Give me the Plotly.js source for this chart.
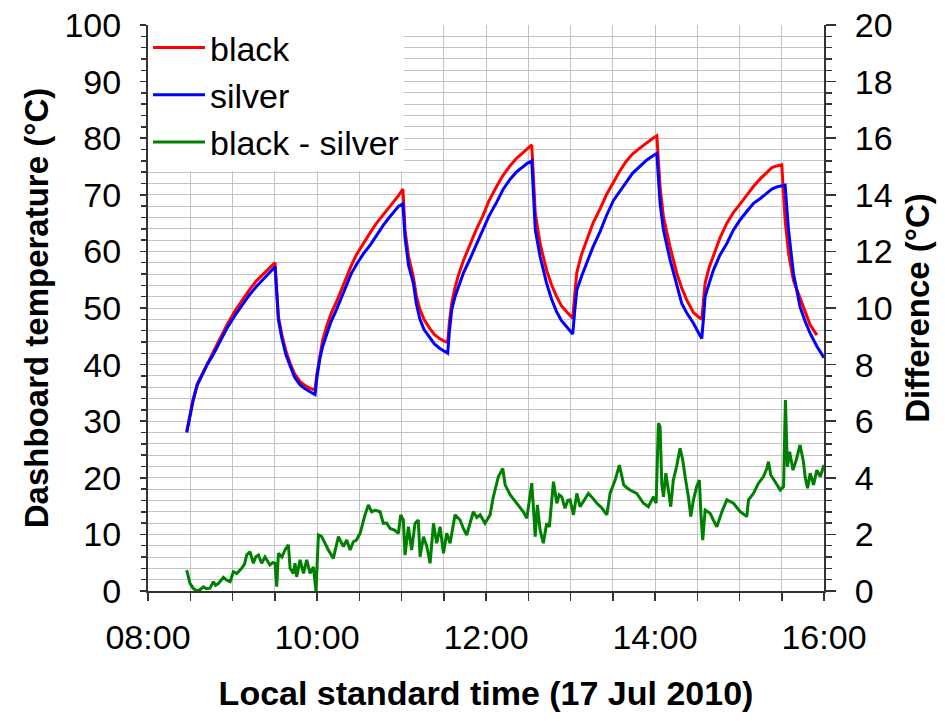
<!DOCTYPE html>
<html>
<head>
<meta charset="utf-8">
<script src="https://cdn.plot.ly/plotly-3.0.1.min.js"></script>
<style>html,body{margin:0;padding:0;background:#fff;}#chart{width:945px;height:721px;}</style>
</head>
<body>
<div id="chart"></div>
<script>
// Times are minutes after 08:00 on 17 Jul 2010
const tempMinutes = [27.5,30,32,35,39,42,46,51,56,62,68,72,77,84,88,90.2,92.6,95,98,101,104,108,111,115,118.6,120,122,124,127,130,134,137,141,144,148,153,158,162,167,171,175,178,181,182.5,185,188.4,190.5,193,196,200,203.5,207,210,212.8,214,215.6,218,220.4,224,228.7,233,238,242,247.6,252,257,261.5,266.5,269.5,272.5,275,278.4,283,286.5,290,293.5,297.4,299.5,301.6,303,304.5,308,311.6,316,321,325.5,330.5,335,339.5,344,349,354,358,361.3,363.6,366,370.7,375.5,379,382.6,387.3,390.5,393.2,394.5,395.6,398.5,401.5,406,411,415.5,420.5,425,430,435,439.4,443,446.5,450,452.4,454.8,458.3,463,466.5,470.2,475,480];
const blackTemp = [28.2,31.6,33.8,36.6,38.6,40.3,42.0,44.6,47.0,49.6,51.8,53.2,54.8,56.6,57.5,58.0,48.5,45.3,42.3,40.2,38.4,37.0,36.4,35.8,35.5,38.5,41.8,44.3,46.9,49.0,51.2,53.0,55.6,57.3,59.4,61.5,63.4,64.9,66.4,67.6,68.8,69.9,71.0,63.8,59.1,55.5,52.2,49.8,48.0,46.4,45.3,44.6,44.2,43.9,47.5,50.8,53.6,55.8,58.4,61.2,63.8,66.4,68.9,71.5,73.4,75.1,76.4,77.5,78.2,78.8,66.7,61.4,56.7,54.1,52.1,50.4,49.3,48.7,48.2,52.4,56.3,59.6,62.2,65.0,67.5,70.0,72.2,74.2,75.9,77.2,78.2,79.2,79.9,80.4,71.4,66.1,60.8,56.1,53.5,51.4,49.2,48.5,48.0,51.5,54.4,57.2,59.3,62.3,65.0,66.8,68.4,69.9,71.5,72.9,73.9,74.8,75.1,75.3,65.5,59.7,54.9,51.9,49.6,47.0,45.2];
const silverTemp = [28.0,31.4,33.6,36.4,38.4,40.0,41.6,44.0,46.4,48.8,51.0,52.3,53.8,55.7,56.8,57.3,47.9,44.7,41.7,39.6,37.8,36.4,35.8,35.2,34.7,37.8,41.0,43.2,45.6,47.6,49.8,51.7,54.3,55.9,57.7,59.6,61.2,62.8,64.6,65.9,67.2,68.0,68.4,62.5,57.5,54.4,50.8,48.1,46.2,44.7,43.6,42.9,42.5,42.0,45.8,49.6,52.0,53.6,56.2,58.7,61.2,63.8,66.2,68.7,70.9,72.7,74.0,75.0,75.6,76.0,63.8,59.1,54.4,51.6,49.4,47.8,46.7,46.0,45.4,49.5,53.2,55.7,57.9,60.8,63.5,66.3,69.0,70.5,72.2,73.8,75.0,76.1,76.8,77.3,68.5,63.8,58.5,53.8,50.8,49.1,47.3,45.8,44.6,48.4,52.0,54.4,56.7,59.3,61.4,63.7,65.6,67.0,68.5,69.4,70.3,71.0,71.4,71.6,71.7,63.8,56.1,50.2,47.7,45.5,43.2,41.2];

const diffMinutes = [27.5,29.8,32,34.6,37,39.3,41.5,44,46.4,48,50,53.5,56,58.3,60.6,63,66.5,68.5,70.1,72.4,74.8,76.5,78.4,80.7,83.1,85,86.6,88.5,90.2,91.4,92.6,95,97.3,99.7,100.9,103.2,104.4,105.6,108,110.4,112.7,115.1,117.4,119.3,121,123.3,125.5,128.1,131.6,135.2,138.7,141.1,143.5,145.8,148,150.6,154.1,156.5,158.8,161.5,164.8,167.1,169.5,171.9,175,177.8,179.4,181.3,182.5,184.9,187.2,189.6,191.9,193.2,195.6,198,200.3,202.7,205,207.4,209.8,212.1,214.5,218,221.6,224,226.3,228.5,231,233.5,235.8,239.3,242.9,245.2,248.8,251.9,253.6,257.1,261.8,264,266.5,269,272.5,273.7,274.9,276.5,278.4,280.7,283.1,285,287.9,290.3,292,293.8,296.1,298,299.7,302.1,304.5,306.8,309.5,312.7,315.5,318.7,322,325.8,328.1,331.7,334.7,337.8,340,342.3,347,349.5,351.8,355.3,358.9,360.8,362.4,363.6,364.8,366,367.7,369.5,371.2,373,375.3,377.8,379.7,381.4,383.7,385.4,387.3,389.6,391.5,392.7,393.9,395.6,399.1,401.5,403.9,407.5,411,415.7,420.5,425.2,426.4,429.9,433.5,437,439.4,440.6,442.2,445.3,448.9,451.3,452.6,454,455.6,458,460.3,463,465.4,466.6,468.3,470.2,472.6,474.9,477.3,480];
const diffValues = [0.74,0.27,0.1,0.0,0.05,0.15,0.08,0.1,0.33,0.2,0.27,0.48,0.38,0.33,0.68,0.62,0.8,0.95,1.27,1.39,0.98,1.2,1.27,0.98,1.2,1.05,0.92,1.0,0.98,0.15,1.33,1.2,1.45,1.63,0.8,0.62,0.98,0.5,1.1,0.62,1.1,0.62,0.85,0.0,1.98,1.92,1.7,1.45,1.15,1.92,1.57,1.8,1.45,1.74,1.8,2.04,2.69,3.04,2.8,2.85,2.8,2.39,2.4,2.21,2.15,2.04,2.69,2.51,1.27,2.27,1.45,2.39,2.51,1.21,1.92,1.57,0.98,2.39,1.69,2.27,1.33,2.04,1.69,2.69,2.51,2.2,1.98,2.4,2.8,2.6,2.69,2.39,2.69,3.33,4.04,4.33,3.75,3.4,3.1,3.0,2.8,2.57,3.81,2.92,1.92,3.04,2.16,1.69,2.39,2.27,3.86,3.1,3.4,3.33,2.92,3.2,3.22,2.69,3.45,2.98,3.2,3.45,3.3,3.1,2.95,2.69,3.45,3.92,4.45,3.75,3.65,3.57,3.45,3.25,3.1,2.98,3.33,3.1,5.93,5.81,3.81,3.33,4.16,3.57,2.98,3.92,4.39,5.04,4.63,4.04,3.33,2.63,3.22,3.69,3.92,2.63,1.8,2.86,2.75,2.5,2.27,2.8,3.22,3.1,2.8,2.63,3.22,3.45,3.81,4.04,4.33,4.57,4.1,3.86,3.57,3.69,6.75,4.39,4.92,4.27,4.63,5.16,4.57,4.04,3.63,4.16,3.75,4.27,4.04,4.45];

const xTickVals = [8,10,12,14,16];
const xTickText = ['08:00','10:00','12:00','14:00','16:00'];
const seriesNames = ['black','silver','black - silver'];

const toHours = m => 8 + m/60;
const FONT = 'Arial, "Liberation Sans", sans-serif';
const TICKSIZE = 34;

const traces = [
  {x: tempMinutes.map(toHours), y: blackTemp, name: seriesNames[0], type: 'scatter', mode: 'lines',
   line: {color: '#ff0000', width: 3}, yaxis: 'y'},
  {x: tempMinutes.map(toHours), y: silverTemp, name: seriesNames[1], type: 'scatter', mode: 'lines',
   line: {color: '#0000ff', width: 3}, yaxis: 'y'},
  {x: diffMinutes.map(toHours), y: diffValues, name: seriesNames[2], type: 'scatter', mode: 'lines',
   line: {color: '#008000', width: 3}, yaxis: 'y2'}
];

const layout = {
  width: 945, height: 721,
  margin: {l: 148, r: 121, t: 25, b: 130},
  paper_bgcolor: '#ffffff', plot_bgcolor: '#ffffff',
  font: {family: FONT, size: TICKSIZE, color: '#000'},
  showlegend: true,
  legend: {x: 0, y: 1.0106, xanchor: 'left', yanchor: 'top', bgcolor: '#ffffff', borderwidth: 0,
           font: {family: FONT, size: 34, color: '#000'}, tracegroupgap: 0, itemwidth: 52},
  xaxis: {
    range: [8, 16], tickvals: xTickVals, ticktext: xTickText,
    ticks: 'outside', ticklen: 8, tickwidth: 1.5, tickcolor: '#333',
    ticklabelstandoff: 7,
    showline: true, linecolor: '#333', linewidth: 2, mirror: false,
    showgrid: true, gridcolor: '#c4c4c4', gridwidth: 1, zeroline: false,
    minor: {dtick: 0.5, tick0: 8, showgrid: true, gridcolor: '#c4c4c4', gridwidth: 1, ticks: 'outside', ticklen: 8, tickwidth: 1.5, tickcolor: '#333'},
    tickfont: {family: FONT, size: TICKSIZE},
    title: {text: '<b>Local standard time (17 Jul 2010)</b>', font: {family: FONT, size: 34}, standoff: 26}
  },
  yaxis: {
    range: [0, 100], dtick: 10, tick0: 0,
    ticks: 'outside', ticklen: 6, tickwidth: 1.5, tickcolor: '#333',
    ticklabelstandoff: 12,
    showline: true, linecolor: '#333', linewidth: 2,
    showgrid: true, gridcolor: '#c4c4c4', gridwidth: 1, zeroline: false,
    minor: {dtick: 2, showgrid: true, gridcolor: '#c4c4c4', gridwidth: 1, ticks: 'outside', ticklen: 5, tickwidth: 1.5, tickcolor: '#333'},
    tickfont: {family: FONT, size: TICKSIZE},
    title: {text: '<b>Dashboard temperature (°C)</b>', font: {family: FONT, size: 33}, standoff: 6}
  },
  yaxis2: {
    overlaying: 'y', side: 'right', range: [0, 20], dtick: 2, tick0: 0,
    ticks: 'outside', ticklen: 10, tickwidth: 1.5, tickcolor: '#333',
    ticklabelstandoff: 12,
    showline: true, linecolor: '#333', linewidth: 2,
    showgrid: false, zeroline: false,
    minor: {dtick: 0.4, ticks: 'outside', ticklen: 6, tickwidth: 1.5, tickcolor: '#333', showgrid: false},
    tickfont: {family: FONT, size: TICKSIZE},
    title: {text: '<b>Difference (°C)</b>', font: {family: FONT, size: 33}, standoff: 14}
  }
};

Plotly.newPlot('chart', traces, layout, {displayModeBar: false, staticPlot: true});
</script>
</body>
</html>
